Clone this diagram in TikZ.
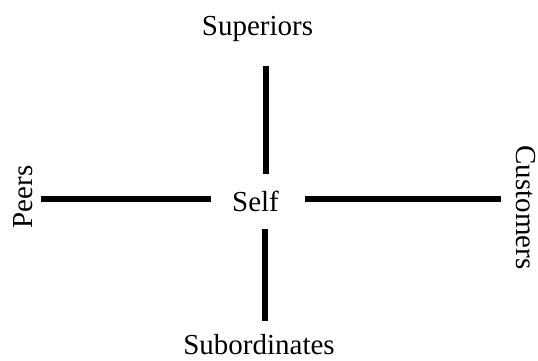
\documentclass[tikz,border=0pt]{standalone}
\usepackage{fontspec}
\setmainfont{Liberation Serif}
\begin{document}
\begin{tikzpicture}[x=1pt,y=-1pt,
  lbl/.style={inner sep=0pt,anchor=base,font=\fontsize{29}{34}\selectfont},
  spoke/.style={line width=6pt,line cap=butt}]
\useasboundingbox (0,0) rectangle (538,360);
\node[lbl] (self) at (255.5,211.7) {Self};
\node[lbl] (sup) at (257.5,35) {Superiors};
\node[lbl,text depth=0pt] (sub) at (259,354) {Subordinates};
\node[lbl,rotate=90] (peers) at (32.7,197) {Peers};
\node[lbl,rotate=-90] (cust) at (516,207.5) {Customers};
\coordinate (t1) at (265.5,65.7);
\coordinate (t2) at (265.5,174.3);
\coordinate (b1) at (265.3,229);
\coordinate (b2) at (265.3,320.7);
\coordinate (l1) at (40.7,198.8);
\coordinate (l2) at (211,198.8);
\coordinate (r1) at (305,198.8);
\coordinate (r2) at (500.7,198.8);
\draw[spoke] (t1) -- (t2);
\draw[spoke] (b1) -- (b2);
\draw[spoke] (l1) -- (l2);
\draw[spoke] (r1) -- (r2);
\end{tikzpicture}
\end{document}
